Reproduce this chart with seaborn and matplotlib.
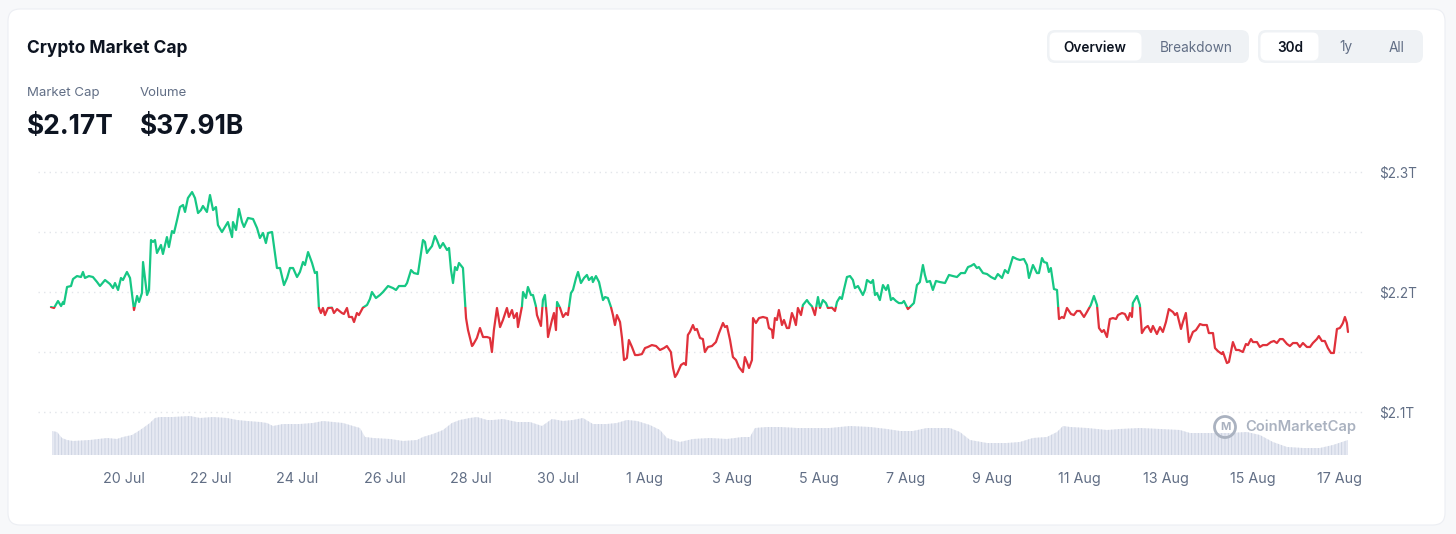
import pandas as pd
import matplotlib
matplotlib.use("Agg")
import matplotlib.pyplot as plt
import matplotlib.dates as mdates
import matplotlib.ticker as mticker
from matplotlib import transforms
from matplotlib.patches import FancyBboxPatch, Rectangle, Circle
import seaborn as sns

# market cap: hours after 18 Jul 00:00, value in billions USD
start = pd.Timestamp("2024-07-18 00:00")

hours = [
    7.7, 9.4, 11.6, 13.3, 14.4, 14.9, 16.6, 18.8, 19.9, 22.1, 24.3, 25.4, 26.5, 28.7, 30.9,
    33.2, 34.8, 37.6, 40.3, 42.0, 43.1, 44.8, 46.4, 47.5, 49.7, 51.4, 53.6, 55.3, 56.4, 58.0,
    58.6, 60.8, 61.9, 63.0, 64.1, 65.2, 66.3, 68.5, 69.6, 71.8, 72.9, 74.6, 75.7, 77.4, 79.0,
    80.7, 81.8, 83.4, 85.7, 87.3, 89.0, 90.6, 91.7, 93.9, 95.6, 97.3, 98.9, 100.0, 102.2, 103.9,
    105.5, 107.8, 108.3, 110.0, 111.6, 113.3, 114.4, 116.6, 119.4, 121.6, 123.2, 124.9, 126.5, 127.7, 129.9,
    131.0, 132.6, 134.3, 136.5, 138.2, 139.8, 141.5, 143.7, 145.3, 147.0, 148.1, 149.8, 152.0, 153.6, 154.7,
    155.8, 156.9, 158.0, 159.1, 160.8, 163.0, 164.1, 165.8, 168.5, 169.6, 171.3, 172.4, 174.1, 175.2, 176.8,
    177.9, 180.1, 182.4, 184.0, 185.1, 187.3, 189.5, 191.2, 194.0, 196.7, 198.4, 200.0, 203.4, 204.5, 206.7,
    208.3, 210.5, 213.3, 214.4, 215.5, 216.6, 218.3, 219.9, 221.0, 222.7, 224.4, 226.6, 227.7, 228.8, 229.9,
    231.0, 232.1, 233.2, 235.4, 237.1, 238.2, 240.4, 240.9, 243.1, 244.8, 246.5, 248.7, 250.3, 251.4, 252.5,
    254.2, 255.9, 257.5, 259.7, 260.8, 262.5, 263.6, 265.2, 265.8, 268.0, 268.6, 270.2, 271.3, 273.0, 274.1,
    275.7, 276.3, 278.5, 279.6, 280.7, 281.8, 282.4, 284.6, 285.7, 286.8, 287.4, 289.0, 290.7, 292.3, 293.4,
    295.1, 296.2, 297.9, 299.0, 300.6, 302.3, 303.9, 305.0, 306.7, 307.2, 308.9, 310.6, 312.8, 313.9, 315.5,
    317.2, 318.3, 319.4, 320.5, 322.2, 323.3, 324.4, 326.0, 327.1, 328.8, 330.5, 332.1, 334.3, 336.0, 337.6,
    339.8, 342.1, 344.3, 346.5, 348.1, 350.3, 351.5, 352.6, 353.7, 355.9, 357.5, 358.6, 359.7, 360.8, 362.5,
    363.6, 364.7, 366.4, 368.0, 369.1, 370.8, 373.0, 375.2, 376.9, 379.1, 380.2, 381.3, 383.0, 384.6, 386.3,
    387.9, 390.1, 391.2, 392.3, 393.5, 395.1, 395.7, 397.3, 399.0, 401.2, 403.4, 404.5, 406.2, 406.7, 407.8,
    408.9, 410.0, 411.7, 412.8, 414.4, 415.6, 417.2, 418.3, 419.4, 420.5, 422.2, 423.3, 425.5, 426.6, 428.3,
    429.9, 431.6, 432.7, 434.3, 436.0, 437.1, 439.3, 441.0, 442.1, 443.7, 444.8, 445.9, 447.6, 449.3, 450.9,
    452.0, 453.7, 456.4, 457.6, 458.7, 460.9, 462.0, 463.1, 464.2, 465.8, 467.5, 469.2, 470.3, 471.9, 473.0,
    474.7, 476.3, 478.0, 479.1, 481.3, 483.5, 484.6, 486.3, 487.9, 489.6, 490.7, 491.8, 493.5, 495.1, 496.8,
    499.0, 501.8, 504.0, 506.2, 508.4, 510.6, 512.8, 514.5, 516.1, 517.8, 519.4, 520.5, 522.8, 525.0, 527.2,
    529.4, 531.0, 533.3, 534.9, 536.6, 539.3, 541.5, 543.2, 545.4, 547.1, 548.2, 550.4, 552.6, 553.7, 555.4,
    556.5, 558.1, 559.2, 560.3, 562.0, 563.7, 564.8, 566.4, 567.5, 569.2, 571.4, 573.0, 574.7, 576.4, 578.6,
    580.2, 582.4, 584.1, 585.8, 586.9, 588.5, 589.6, 591.3, 592.9, 594.6, 596.3, 597.4, 599.6, 601.2, 602.9,
    604.0, 605.1, 605.6, 607.9, 609.5, 610.6, 612.3, 613.9, 615.6, 616.7, 618.9, 620.6, 622.2, 623.9, 625.5,
    627.8, 628.9, 630.0, 632.2, 633.3, 634.9, 636.6, 638.8, 640.5, 642.7, 644.3, 646.5, 647.6, 649.9, 651.0,
    652.6, 654.8, 655.4, 657.6, 658.7, 660.9, 662.6, 664.2, 666.4, 668.1, 669.2, 670.9, 672.0, 674.2, 675.8,
    677.5, 679.7, 681.9, 683.6, 685.2, 686.9, 688.5, 690.8, 692.4, 694.1, 696.3, 697.9, 699.6, 701.8, 703.5,
    705.1, 707.3, 708.4, 710.1, 711.7, 713.4, 715.1, 716.7, 718.4, 720.0, 721.1, 721.7, 722.8, 723.9, 724.5,
]

cap_b = [
    2187.5, 2186.7, 2192.5, 2188.3, 2191.7, 2190.0, 2204.2, 2205.0, 2210.8, 2213.3, 2212.5, 2216.7, 2211.7, 2213.3, 2212.5,
    2208.3, 2205.0, 2210.0, 2206.7, 2203.3, 2207.5, 2201.7, 2211.7, 2210.0, 2216.7, 2211.7, 2185.0, 2196.7, 2191.7, 2199.2,
    2225.0, 2197.5, 2201.7, 2243.3, 2241.7, 2243.3, 2232.5, 2239.2, 2231.7, 2245.8, 2237.5, 2250.8, 2249.2, 2260.0, 2270.8,
    2272.5, 2266.7, 2278.3, 2283.3, 2278.3, 2265.8, 2268.3, 2271.7, 2266.7, 2280.8, 2268.3, 2270.8, 2255.8, 2250.0, 2254.2,
    2258.3, 2245.8, 2258.3, 2251.7, 2269.2, 2258.3, 2254.2, 2261.7, 2260.8, 2253.3, 2245.0, 2249.2, 2240.8, 2249.2, 2250.0,
    2237.5, 2220.0, 2220.0, 2205.8, 2211.7, 2220.0, 2220.0, 2212.5, 2216.7, 2225.0, 2222.5, 2233.3, 2224.2, 2215.8, 2216.7,
    2186.7, 2182.5, 2186.7, 2180.8, 2186.7, 2187.0, 2182.5, 2185.8, 2182.5, 2181.7, 2186.7, 2179.2, 2179.2, 2175.0, 2182.5,
    2180.8, 2187.0, 2189.2, 2194.2, 2200.0, 2195.0, 2197.5, 2200.0, 2205.0, 2203.3, 2201.7, 2205.0, 2205.0, 2207.5, 2218.3,
    2215.8, 2215.0, 2243.3, 2241.7, 2232.5, 2235.0, 2238.3, 2246.7, 2243.3, 2236.7, 2240.8, 2235.0, 2236.7, 2218.3, 2207.5,
    2220.8, 2218.3, 2224.2, 2220.0, 2178.3, 2168.3, 2155.0, 2155.8, 2161.7, 2170.0, 2162.5, 2162.5, 2161.7, 2150.0, 2168.3,
    2186.7, 2170.8, 2176.7, 2186.7, 2179.2, 2185.0, 2178.3, 2182.5, 2170.8, 2188.0, 2200.0, 2195.0, 2204.2, 2197.5, 2197.5,
    2188.3, 2180.8, 2171.7, 2193.3, 2197.5, 2179.2, 2162.5, 2176.7, 2182.5, 2168.3, 2191.7, 2187.0, 2179.2, 2182.5, 2180.8,
    2199.2, 2201.7, 2211.7, 2216.7, 2207.5, 2211.7, 2214.2, 2210.0, 2212.5, 2208.3, 2213.3, 2208.3, 2193.3, 2195.8, 2195.0,
    2187.5, 2180.8, 2172.5, 2180.8, 2175.0, 2161.7, 2143.3, 2145.0, 2160.0, 2154.2, 2147.5, 2147.5, 2148.3, 2153.3, 2154.2,
    2155.8, 2155.0, 2151.7, 2153.3, 2155.0, 2150.0, 2136.7, 2129.2, 2131.7, 2139.2, 2140.8, 2139.2, 2164.2, 2166.7, 2172.5,
    2168.3, 2169.2, 2161.7, 2160.8, 2150.0, 2154.2, 2155.0, 2158.3, 2165.8, 2174.2, 2170.8, 2171.7, 2160.0, 2145.8, 2143.3,
    2137.5, 2133.3, 2145.8, 2141.7, 2136.7, 2143.3, 2178.3, 2174.2, 2178.3, 2179.2, 2178.3, 2170.0, 2168.3, 2161.7, 2178.3,
    2176.7, 2185.0, 2172.5, 2176.7, 2170.0, 2170.0, 2182.5, 2178.3, 2172.5, 2186.7, 2180.8, 2189.2, 2193.3, 2190.8, 2188.0,
    2180.8, 2195.8, 2186.7, 2193.3, 2190.8, 2186.7, 2187.0, 2184.2, 2191.7, 2195.8, 2194.2, 2201.7, 2212.5, 2213.3, 2210.0,
    2203.3, 2205.0, 2197.5, 2201.7, 2210.0, 2207.5, 2210.0, 2197.5, 2199.2, 2193.3, 2205.8, 2201.7, 2205.8, 2193.3, 2195.0,
    2192.5, 2190.8, 2190.8, 2192.5, 2185.8, 2189.2, 2190.8, 2205.8, 2208.3, 2222.5, 2214.2, 2208.3, 2209.2, 2201.7, 2209.2,
    2208.3, 2207.5, 2214.2, 2213.3, 2212.5, 2215.8, 2215.8, 2220.8, 2221.7, 2223.3, 2220.0, 2220.8, 2215.8, 2215.0, 2212.5,
    2210.8, 2215.0, 2211.7, 2218.3, 2215.8, 2229.2, 2227.5, 2226.7, 2227.5, 2222.5, 2211.7, 2222.5, 2215.8, 2215.8, 2228.3,
    2225.0, 2224.2, 2216.7, 2220.0, 2202.5, 2201.7, 2177.5, 2179.2, 2178.3, 2186.7, 2181.7, 2180.8, 2184.2, 2184.2, 2179.2,
    2183.3, 2189.2, 2196.7, 2189.2, 2170.0, 2166.7, 2168.3, 2162.5, 2177.5, 2178.3, 2177.5, 2180.8, 2182.5, 2181.7, 2176.7,
    2182.5, 2179.2, 2190.8, 2196.7, 2189.2, 2165.8, 2170.0, 2171.7, 2166.7, 2171.7, 2165.0, 2170.8, 2166.7, 2175.0, 2185.8,
    2183.3, 2180.8, 2182.5, 2169.2, 2175.0, 2182.5, 2158.3, 2166.7, 2168.3, 2173.3, 2172.5, 2172.5, 2165.8, 2165.8, 2153.3,
    2150.8, 2148.3, 2150.0, 2140.8, 2141.7, 2158.3, 2151.7, 2151.7, 2150.0, 2156.7, 2155.8, 2160.8, 2158.3, 2158.3, 2154.2,
    2155.8, 2155.8, 2158.3, 2159.2, 2157.5, 2160.8, 2160.8, 2156.7, 2155.0, 2157.5, 2157.5, 2154.2, 2157.5, 2154.2, 2154.2,
    2157.5, 2160.8, 2163.3, 2159.2, 2159.2, 2153.3, 2149.2, 2149.2, 2169.2, 2170.0, 2172.5, 2174.2, 2179.2, 2174.2, 2166.7,
]

# 24h volume (billions USD)
vol_hours = [
    8.3, 11.1, 13.8, 16.6, 19.9, 29.3, 38.7, 44.2, 47.5, 52.5, 55.3, 58.6, 62.4, 65.2, 68.0,
    75.2, 84.5, 90.1, 97.3, 105.0, 110.5, 116.0, 123.2, 127.1, 130.4, 135.9, 145.3, 152.5, 158.0, 163.6,
    169.1, 174.6, 178.5, 181.3, 185.7, 195.1, 202.3, 210.0, 213.3, 218.8, 224.4, 229.3, 233.7, 239.3, 243.1,
    248.7, 252.0, 257.5, 265.2, 272.4, 279.1, 284.6, 290.7, 296.2, 301.7, 307.2, 315.0, 320.5, 326.0, 331.6,
    338.7, 344.3, 348.1, 355.3, 362.5, 371.9, 381.3, 390.1, 394.0, 396.8, 403.4, 410.6, 420.0, 428.8, 438.2,
    449.3, 460.3, 469.7, 476.9, 484.1, 491.8, 504.5, 510.0, 515.6, 525.0, 536.0, 543.2, 550.4, 558.1, 563.7,
    567.0, 570.8, 580.2, 591.3, 598.5, 609.5, 620.6, 631.6, 637.1, 648.2, 659.2, 668.6, 675.8, 683.0, 690.8,
    699.6, 709.0, 716.2, 724.5,
]
vol_b = [
    60.0, 57.5, 42.5, 37.5, 35.0, 37.5, 42.5, 40.0, 45.0, 50.0, 57.5, 67.5, 80.0, 92.5, 95.0,
    95.0, 97.5, 92.5, 95.0, 92.5, 87.5, 85.0, 82.5, 80.0, 72.5, 77.5, 77.5, 80.0, 85.0, 82.5,
    80.0, 72.5, 67.5, 45.0, 42.5, 40.0, 35.0, 37.5, 45.0, 52.5, 62.5, 80.0, 87.5, 92.5, 95.0,
    87.5, 87.5, 90.0, 82.5, 82.5, 72.5, 90.0, 85.0, 87.5, 92.5, 77.5, 77.5, 80.0, 87.5, 85.0,
    75.0, 62.5, 42.5, 32.5, 40.0, 42.5, 40.0, 45.0, 45.0, 67.5, 70.0, 70.0, 67.5, 67.5, 67.5,
    72.5, 70.0, 65.0, 60.0, 60.0, 67.5, 67.5, 57.5, 37.5, 30.0, 30.0, 32.5, 42.5, 45.0, 57.5,
    72.5, 70.0, 67.5, 62.5, 65.0, 67.5, 65.0, 62.5, 55.0, 55.0, 55.0, 57.5, 50.0, 32.5, 20.0,
    17.5, 17.5, 25.0, 37.5,
]

day_ticks = pd.date_range("2024-07-20", "2024-08-17", freq="2D")
cap_ticks = [2100, 2200, 2300]
cap_minor = [2150, 2250]

GREEN = "#16c784"
RED = "#e0313b"
GREY = "#616e85"
INK = "#0d1421"

sns.set_theme(style="white")
plt.rcParams["font.family"] = ["Inter", "DejaVu Sans"]
plt.rcParams["hatch.linewidth"] = 0.6

df = pd.DataFrame({"time": start + pd.to_timedelta(hours, unit="h"), "cap": cap_b})
vol = pd.DataFrame({"time": start + pd.to_timedelta(vol_hours, unit="h"), "vol": vol_b})
base = df["cap"].iloc[0]

W, H = 1456, 534
fig = plt.figure(figsize=(W / 100, H / 100), dpi=100, facecolor="#f7f8fa")

# card + header, drawn in pixel units
bg = fig.add_axes([0, 0, 1, 1], zorder=0)
bg.set_xlim(0, W)
bg.set_ylim(H, 0)
bg.axis("off")
bg.add_patch(FancyBboxPatch((8, 9), 1437, 516, boxstyle="round,pad=0,rounding_size=12",
                            fc="white", ec="#eceef3", lw=0.8))
bg.text(27, 53, "Crypto Market Cap", fontsize=12.5, fontweight="bold", color=INK, va="baseline")
bg.text(27, 96, "Market Cap", fontsize=9.5, color=GREY, va="baseline")
bg.text(140, 96, "Volume", fontsize=9.5, color=GREY, va="baseline")
bg.text(27, 134, "$2.17T", fontsize=19, fontweight="bold", color=INK, va="baseline")
bg.text(140, 134, "$37.91B", fontsize=19, fontweight="bold", color=INK, va="baseline")

bg.add_patch(FancyBboxPatch((1047, 30), 202, 33, boxstyle="round,pad=0,rounding_size=8", fc="#eff2f5", ec="none"))
bg.add_patch(FancyBboxPatch((1049.5, 32.5), 92, 28, boxstyle="round,pad=0,rounding_size=6", fc="white", ec="none"))
bg.add_patch(FancyBboxPatch((1258, 30), 165, 33, boxstyle="round,pad=0,rounding_size=8", fc="#eff2f5", ec="none"))
bg.add_patch(FancyBboxPatch((1260.5, 32.5), 58, 28, boxstyle="round,pad=0,rounding_size=6", fc="white", ec="none"))
bg.text(1095, 51.5, "Overview", fontsize=9.8, fontweight="semibold", color=INK, ha="center", va="baseline")
bg.text(1196, 51.5, "Breakdown", fontsize=9.8, color=GREY, ha="center", va="baseline")
bg.text(1290, 51.5, "30d", fontsize=9.8, fontweight="semibold", color=INK, ha="center", va="baseline")
bg.text(1345.5, 51.5, "1y", fontsize=9.8, color=GREY, ha="center", va="baseline")
bg.text(1396.5, 51.5, "All", fontsize=9.8, color=GREY, ha="center", va="baseline")

rect = [38 / W, (H - 455) / H, (1363 - 38) / W, (455 - 160) / H]
ax_vol = fig.add_axes(rect, zorder=1)
ax = fig.add_axes(rect, zorder=2, sharex=ax_vol)
ax.patch.set_visible(False)
ax_vol.patch.set_visible(False)

# volume strip
ax_vol.fill_between(vol["time"], 0, vol["vol"], facecolor="#e6e9f2", edgecolor="#c9d0e0",
                    hatch="|||||", linewidth=0)
ax_vol.set_ylim(0, 737.5)
ax_vol.axis("off")

# price line: green above the opening value, red below
blend = transforms.blended_transform_factory(ax.transAxes, ax.transData)
sns.lineplot(data=df, x="time", y="cap", ax=ax, color=GREEN, linewidth=1.6, estimator=None)
ax.lines[-1].set_clip_path(Rectangle((0, base), 1, 1000, transform=blend))
sns.lineplot(data=df, x="time", y="cap", ax=ax, color=RED, linewidth=1.6, estimator=None)
ax.lines[-1].set_clip_path(Rectangle((0, base - 1000), 1, 1000, transform=blend))

ax.set_xlim(start + pd.Timedelta(hours=0.55), start + pd.Timedelta(hours=732.8))
ax.set_ylim(2064.2, 2310)
ax.set_xlabel("")
ax.set_ylabel("")

ax.yaxis.tick_right()
ax.set_yticks(cap_ticks)
ax.set_yticks(cap_minor, minor=True)
ax.yaxis.set_major_formatter(mticker.FuncFormatter(lambda v, p: f"${v / 1000:.1f}T"))
ax.grid(False)
ax.grid(which="both", axis="y", color="#e2e5ea", linestyle=(0, (1, 3)), linewidth=1)

ax.set_xticks(day_ticks)
ax.xaxis.set_major_formatter(mticker.FuncFormatter(
    lambda v, p: f"{mdates.num2date(v).day} {mdates.num2date(v).strftime('%b')}"))

ax.tick_params(axis="y", which="both", length=0, pad=11.5, labelsize=9.8, labelcolor=GREY)
ax.tick_params(axis="x", length=0, pad=12.5, labelsize=10.3, labelcolor=GREY)
for s in ax.spines.values():
    s.set_visible(False)

# watermark
top = fig.add_axes([0, 0, 1, 1], zorder=5)
top.set_xlim(0, W)
top.set_ylim(H, 0)
top.axis("off")
top.patch.set_visible(False)
top.add_patch(Circle((1225, 427), 10.5, fill=False, ec="#aab2c0", lw=2))
top.text(1225, 427.5, "M", fontsize=8, fontweight="bold", color="#aab2c0", ha="center", va="center")
top.text(1245, 427, "CoinMarketCap", fontsize=10.6, fontweight="semibold", color="#aab2c0", va="center")

fig.savefig("out.png", dpi=100, facecolor=fig.get_facecolor())
